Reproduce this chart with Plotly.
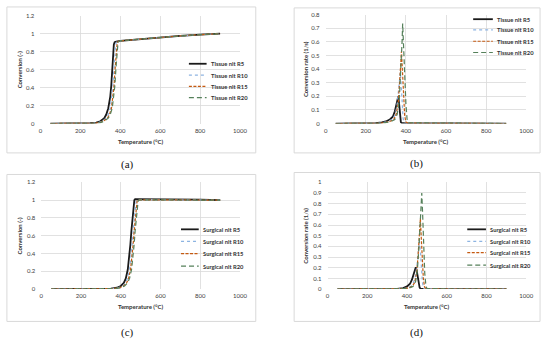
import plotly.graph_objects as go

W, H = 550, 345

series_names_a = ["Tissue nit R5", "Tissue nit R10", "Tissue nit R15", "Tissue nit R20"]
series_names_c = ["Surgical nit R5", "Surgical nit R10", "Surgical nit R15", "Surgical nit R20"]

# (a) Tissue nit conversion
a_T = [
    [50, 100, 150, 200, 250, 280, 300, 320, 330, 340, 350, 355, 360, 365, 368, 372, 380, 400, 500, 600, 700, 800, 900],
    [50, 100, 150, 200, 260, 290, 310, 330, 340, 350, 358, 363, 368, 373, 377, 381, 390, 400, 500, 600, 700, 800, 900],
    [50, 100, 150, 200, 265, 295, 315, 336, 346, 356, 364, 369, 374, 379, 382, 385, 392, 400, 500, 600, 700, 800, 900],
    [50, 100, 150, 200, 270, 300, 320, 340, 350, 360, 368, 373, 378, 383, 386, 389, 395, 400, 500, 600, 700, 800, 900],
]
a_X = [
    [0, 0, 0, 0, 0.003, 0.01, 0.025, 0.06, 0.1, 0.17, 0.3, 0.42, 0.6, 0.8, 0.88, 0.905, 0.912, 0.92, 0.94, 0.96, 0.975, 0.99, 1.0],
    [0, 0, 0, 0, 0.003, 0.01, 0.025, 0.06, 0.1, 0.17, 0.3, 0.42, 0.6, 0.8, 0.88, 0.905, 0.914, 0.92, 0.94, 0.96, 0.975, 0.99, 1.0],
    [0, 0, 0, 0, 0.003, 0.01, 0.025, 0.06, 0.1, 0.17, 0.3, 0.42, 0.6, 0.8, 0.88, 0.905, 0.915, 0.92, 0.94, 0.96, 0.975, 0.99, 1.0],
    [0, 0, 0, 0, 0.003, 0.01, 0.025, 0.06, 0.1, 0.17, 0.3, 0.42, 0.6, 0.8, 0.88, 0.905, 0.916, 0.92, 0.94, 0.96, 0.975, 0.99, 1.0],
]

# (b) Tissue nit conversion rate
b_T = [
    [50, 250, 280, 300, 320, 335, 345, 352, 358, 362, 366, 370, 375, 380, 400, 600, 900],
    [50, 260, 290, 310, 330, 345, 355, 362, 368, 372, 376, 381, 386, 392, 400, 600, 900],
    [50, 270, 300, 320, 340, 352, 362, 370, 375, 378, 383, 388, 394, 400, 410, 600, 900],
    [50, 275, 305, 325, 345, 357, 367, 375, 381, 384, 389, 394, 400, 406, 412, 600, 900],
]
b_R = [
    [0, 0.002, 0.008, 0.015, 0.03, 0.05, 0.09, 0.14, 0.19, 0.2, 0.15, 0.07, 0.01, 0.003, 0.002, 0.001, 0],
    [0, 0.002, 0.008, 0.015, 0.03, 0.06, 0.12, 0.22, 0.33, 0.375, 0.3, 0.15, 0.04, 0.005, 0.003, 0.001, 0],
    [0, 0.002, 0.008, 0.015, 0.03, 0.07, 0.15, 0.3, 0.45, 0.53, 0.4, 0.22, 0.06, 0.01, 0.003, 0.001, 0],
    [0, 0.002, 0.008, 0.015, 0.03, 0.07, 0.17, 0.38, 0.6, 0.735, 0.6, 0.37, 0.15, 0.03, 0.005, 0.001, 0],
]

# (c) Surgical nit conversion
c_T = [
    [50, 300, 350, 380, 400, 415, 425, 435, 442, 448, 453, 458, 463, 468, 472, 500, 600, 700, 800, 900],
    [50, 300, 355, 388, 409, 424, 434, 444, 451, 457, 462, 467, 472, 477, 481, 500, 600, 700, 800, 900],
    [50, 300, 360, 393, 414, 429, 439, 449, 456, 462, 467, 472, 477, 482, 486, 500, 600, 700, 800, 900],
    [50, 300, 365, 398, 419, 434, 444, 454, 461, 467, 472, 477, 482, 487, 491, 500, 600, 700, 800, 900],
]
c_X = [
    [0, 0.002, 0.005, 0.015, 0.035, 0.07, 0.12, 0.22, 0.35, 0.5, 0.65, 0.8, 0.93, 1.0, 1.01, 1.01, 1.01, 1.01, 1.005, 1.0],
    [0, 0.002, 0.005, 0.015, 0.035, 0.07, 0.12, 0.22, 0.35, 0.5, 0.65, 0.8, 0.93, 0.99, 1.0, 1.005, 1.005, 1.005, 1.003, 1.0],
    [0, 0.002, 0.005, 0.015, 0.035, 0.07, 0.12, 0.22, 0.35, 0.5, 0.65, 0.8, 0.93, 0.99, 1.0, 1.003, 1.003, 1.003, 1.002, 1.0],
    [0, 0.002, 0.005, 0.015, 0.035, 0.07, 0.12, 0.22, 0.35, 0.5, 0.65, 0.8, 0.93, 0.99, 1.0, 1.002, 1.002, 1.002, 1.001, 1.0],
]

# (d) Surgical nit conversion rate
d_T = [
    [50, 300, 350, 380, 400, 415, 425, 433, 440, 444, 448, 453, 458, 463, 468, 480, 600, 900],
    [50, 320, 370, 400, 420, 432, 442, 450, 456, 462, 467, 472, 477, 482, 490, 600, 900],
    [50, 330, 380, 405, 425, 438, 448, 455, 461, 467, 471, 476, 482, 488, 495, 600, 900],
    [50, 335, 385, 410, 430, 443, 452, 460, 467, 474, 478, 483, 489, 495, 500, 600, 900],
]
d_R = [
    [0, 0.001, 0.003, 0.01, 0.025, 0.05, 0.09, 0.14, 0.19, 0.205, 0.18, 0.11, 0.05, 0.015, 0.003, 0.001, 0.0005, 0],
    [0, 0.001, 0.003, 0.01, 0.025, 0.06, 0.12, 0.22, 0.34, 0.45, 0.36, 0.2, 0.07, 0.01, 0.002, 0.0005, 0],
    [0, 0.001, 0.004, 0.01, 0.025, 0.06, 0.15, 0.3, 0.5, 0.66, 0.5, 0.28, 0.1, 0.02, 0.003, 0.0005, 0],
    [0, 0.001, 0.004, 0.01, 0.025, 0.07, 0.18, 0.4, 0.68, 0.9, 0.72, 0.42, 0.15, 0.03, 0.005, 0.0005, 0],
]

x_ticks = [0, 200, 400, 600, 800, 1000]

styles = [
    dict(color="#1a1a1a", width=1.8, dash="solid"),
    dict(color="#8db4e2", width=1.2, dash="dot"),
    dict(color="#c55a11", width=1.2, dash="3px,1.5px"),
    dict(color="#55805a", width=1.2, dash="5px,3px"),
]

def px(x):
    return x / W

def py(y):
    return 1 - y / H

fig = go.Figure()

panels = [
    ("", a_T, a_X, series_names_a, (39, 242, 12, 122), [0, 1.2], 0.2, "Conversion (-)", (5, 3, 258, 152), "(a)", (128, 164), (190, 208, 210, [61, 72.5, 84, 95.5]), 18),
    ("2", b_T, b_R, series_names_a, (329, 533, 11, 122), [0, 0.8], 0.1, "Conversion rate (1/s)", (297, 4, 547, 152), "(b)", (421, 163), (479, 499, 501, [15.5, 26.5, 38, 49.5]), 308),
    ("3", c_T, c_X, series_names_c, (40, 242, 182, 291), [0, 1.2], 0.2, "Conversion (-)", (5, 174, 258, 324), "(c)", (128, 335), (182, 200, 202, [230, 242.3, 254.7, 267.5]), 18),
    ("4", d_T, d_R, series_names_c, (331, 533, 182, 291), [0, 1.0], 0.1, "Conversion rate (1/s)", (297, 172, 547, 324), "(d)", (421, 335), (473, 492, 494, [230, 242.3, 253.7, 266.5]), 309),
]

shapes = []
annotations = []
tickfont = dict(family="Lato", size=6, color="#404040")
titlefont = dict(family="Lato", size=6, color="#333333")

for suf, Ts, Ys, names, (x0, x1, yt, yb), yr, ydt, ytitle, obox, label, lpos, leg, ytx in panels:
    xa = "x" + suf
    ya = "y" + suf
    for i in range(4):
        s = styles[i]
        fig.add_trace(go.Scatter(
            x=Ts[i], y=Ys[i], mode="lines", name=names[i], showlegend=False,
            line=dict(color=s["color"], width=s["width"], dash=s["dash"]),
            xaxis=xa, yaxis=ya,
        ))
    xkey = "xaxis" + suf
    ykey = "yaxis" + suf
    fig.update_layout(**{
        xkey: dict(domain=[px(x0), px(x1)], range=[0, 1000], tickvals=x_ticks,
                   showgrid=True, gridcolor="#d9d9d9", gridwidth=0.8, zeroline=False,
                   showline=False, ticks="", tickfont=tickfont, anchor=ya,
                   ticklabelstandoff=2, fixedrange=True),
        ykey: dict(domain=[py(yb), py(yt)], range=yr, dtick=ydt, tick0=0,
                   showgrid=True, gridcolor="#d9d9d9", gridwidth=0.8, zeroline=False,
                   showline=False, ticks="", tickfont=tickfont, anchor=xa,
                   ticklabelstandoff=5, fixedrange=True),
    })
    bx0, by0, bx1, by1 = obox
    shapes.append(dict(type="rect", xref="paper", yref="paper",
                       x0=px(bx0), x1=px(bx1), y0=py(by1), y1=py(by0),
                       line=dict(color="#d9d9d9", width=1), layer="below"))
    annotations.append(dict(text="<b>Temperature (°C)</b>", xref="paper", yref="paper",
                            x=px((x0 + x1) / 2), y=py(yb + 18), showarrow=False,
                            font=titlefont, xanchor="center", yanchor="middle"))
    annotations.append(dict(text="<b>" + ytitle + "</b>", xref="paper", yref="paper",
                            x=px(ytx), y=py((yt + yb) / 2), showarrow=False, textangle=-90,
                            font=titlefont, xanchor="center", yanchor="middle"))
    annotations.append(dict(text=label, xref="paper", yref="paper",
                            x=px(lpos[0]), y=py(lpos[1]), showarrow=False,
                            font=dict(family="Liberation Serif", size=11, color="#111"),
                            xanchor="center", yanchor="middle"))
    lx0, lx1, tx, rows = leg
    for i in range(4):
        s = styles[i]
        shapes.append(dict(type="line", xref="paper", yref="paper",
                           x0=px(lx0), x1=px(lx1), y0=py(rows[i]), y1=py(rows[i]),
                           line=dict(color=s["color"], width=s["width"], dash=s["dash"])))
        annotations.append(dict(text="<b>" + names[i] + "</b>", xref="paper", yref="paper",
                                x=px(tx), y=py(rows[i]), showarrow=False,
                                font=dict(family="Lato", size=5.8, color="#333333"),
                                xanchor="left", yanchor="middle"))

fig.update_layout(
    width=W, height=H, margin=dict(l=0, r=0, t=0, b=0),
    paper_bgcolor="white", plot_bgcolor="white",
    shapes=shapes, annotations=annotations, showlegend=False,
)

fig.write_html("out.html", config={"displayModeBar": False, "staticPlot": True},
               post_script="document.body.style.margin='0';document.body.style.overflow='hidden';")
